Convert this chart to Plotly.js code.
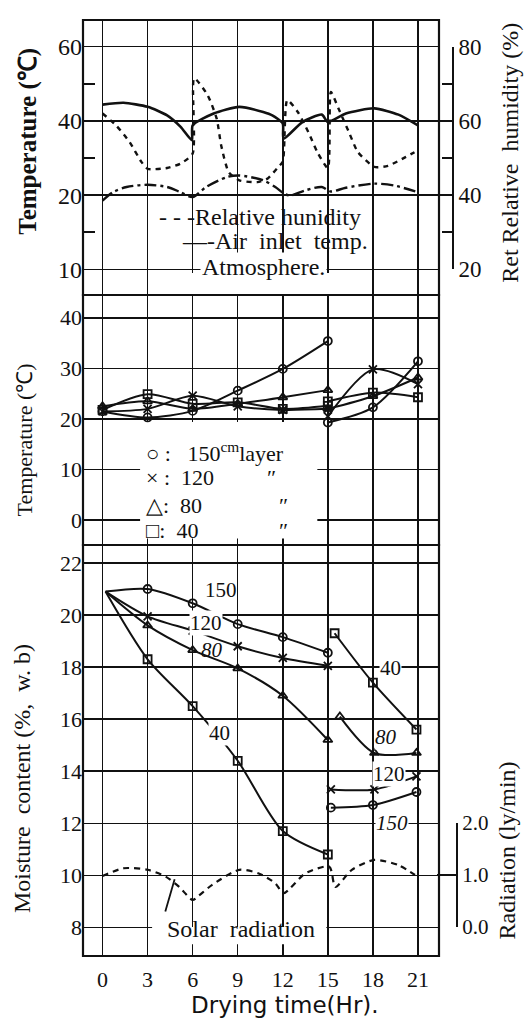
<!DOCTYPE html>
<html><head><meta charset="utf-8">
<script src="https://cdn.plot.ly/plotly-3.0.1.min.js"></script>
<style>html,body{margin:0;padding:0;background:#fff}</style>
</head><body><div id="chart" style="width:526px;height:1021px"></div>
<script>
// ---------- data ----------
const hourTicks = [0, 3, 6, 9, 12, 15, 18, 21];

// top panel: atmosphere (deg C), air inlet temp (deg C), relative humidity (%)
const atmHours = [0, 1.4, 3.0, 4.3, 5.2, 5.95, 6.0, 7.4, 9.1, 10.7, 11.3, 12.0, 12.05, 13.3, 14.6, 15.0, 16.2, 18.1, 19.7, 21.0];
const atmTemp  = [44.4, 44.9, 43.8, 41.5, 38.4, 34.8, 38.8, 42.0, 43.8, 42.4, 41.5, 39.3, 35.2, 39.7, 41.7, 39.7, 42.0, 43.4, 41.7, 38.8];
const inletHours = [0, 0.7, 1.6, 3.0, 4.3, 5.2, 6.0, 6.9, 8.3, 9.1, 10.7, 11.5, 12.1, 12.5, 13.5, 14.6, 15.2, 16.2, 18.1, 19.4, 21.0];
const inletTemp  = [18.5, 20.8, 22.2, 22.8, 22.2, 20.8, 19.5, 22.2, 24.9, 25.3, 24.0, 22.2, 20.4, 19.9, 21.3, 22.2, 21.0, 22.0, 23.1, 22.6, 20.8];
const rhHours  = [0, 0.9, 1.8, 2.6, 3.0, 4.3, 5.2, 6.0, 6.1, 7.0, 7.6, 7.9, 8.4, 9.1, 10.3, 11.0, 11.7, 12.0, 12.3, 13.0, 13.7, 14.3, 15.0, 15.2, 15.7, 16.4, 17.0, 18.1, 19.0, 20.2, 21.0];
const rhValues = [62, 58.8, 54.3, 48.9, 47.1, 47.3, 48.5, 51.2, 71.5, 66.9, 60.6, 53.4, 46.2, 44.0, 43.5, 44.5, 47.6, 49.0, 65.6, 62.4, 57.0, 51.6, 47.3, 67.8, 63.4, 57.0, 51.6, 47.6, 47.9, 50.3, 52.1];
const topTempTicks = [0, 20, 40, 60];
const topTempTickText = ['10', '20', '40', '60'];
const rhTicks = [20, 40, 60, 80];

// middle panel: grain temperature by layer (deg C)
const layerNames = ['150', '120', '80', '40'];
const layerHoursA = [0, 3, 6, 9, 12, 15];
const layerHoursB = [15, 18, 21];
const t150A = [21.5, 20.3, 21.6, 25.6, 29.9, 35.4];
const t120A = [21.5, 22.0, 24.6, 22.5, 21.8, 22.0];
const t80A  = [22.5, 23.5, 22.0, 23.0, 24.3, 25.7];
const t40A  = [21.8, 24.9, 23.0, 23.3, 22.0, 22.6];
const t150B = [19.3, 22.3, 31.4];
const t120B = [20.5, 29.8, 26.9];
const t80B  = [22.0, 24.5, 28.2];
const t40B  = [23.5, 25.2, 24.3];
const midTicks = [0, 10, 20, 30, 40];

// bottom panel: moisture content (%, w.b.)
const mHoursA = [0.2, 3, 6, 9, 12, 15];
const m150A = [20.9, 21.0, 20.45, 19.65, 19.15, 18.55];
const m120A = [20.9, 19.95, 19.4, 18.8, 18.35, 18.05];
const m80A  = [20.9, 19.6, 18.65, 17.95, 16.9, 15.2];
const m40A  = [20.9, 18.3, 16.5, 14.4, 11.7, 10.8];
const m150BHours = [15.2, 18.0, 20.9]; const m150B = [12.6, 12.7, 13.2];
const m120BHours = [15.2, 18.1, 20.9]; const m120B = [13.3, 13.3, 13.8];
const m80BHours  = [15.8, 18.1, 20.9]; const m80B  = [16.1, 14.7, 14.7];
const m40BHours  = [15.45, 18.0, 20.9]; const m40B = [19.3, 17.4, 15.6];
const moistTicks = [8, 10, 12, 14, 16, 18, 20, 22];

// solar radiation (ly/min)
const solarHours = [0, 1.4, 3.0, 4.2, 5.1, 6.0, 6.4, 7.3, 9.1, 10.4, 11.5, 12.05, 13.5, 15.1, 15.5, 16.6, 18.1, 19.7, 20.8];
const solarRad   = [0.98, 1.13, 1.1, 0.97, 0.77, 0.52, 0.6, 0.81, 1.1, 1.03, 0.84, 0.65, 1.03, 1.16, 0.77, 1.1, 1.29, 1.19, 1.0];
const radTicks = [0, 1, 2];

// ---------- styling ----------
const ink = '#111';
const serif = 'Liberation Serif, Times New Roman, serif';
const sans = 'DejaVu Sans, Liberation Sans, sans-serif';
const symbols = {'150': 'circle-open', '120': 'x-thin-open', '80': 'triangle-up-open', '40': 'square-open'};

function curve(x, y, yaxis, extra) {
  return Object.assign({x: x, y: y, xaxis: 'x', yaxis: yaxis, mode: 'lines',
    line: {color: ink, width: 2, shape: 'spline', smoothing: 0.8}, hoverinfo: 'skip'}, extra || {});
}
function layerTrace(x, y, yaxis, name, skipFirst) {
  const xs = skipFirst ? x.slice(1) : x, ys = skipFirst ? y.slice(1) : y;
  return [curve(x, y, yaxis),
    {x: xs, y: ys, xaxis: 'x', yaxis: yaxis, mode: 'markers', hoverinfo: 'skip',
     marker: {symbol: symbols[name], size: 8, color: ink, line: {color: ink, width: 1.8}}}];
}

const traces = [
  curve(atmHours, atmTemp, 'y', {line: {color: ink, width: 2.6, shape: 'spline', smoothing: 0.6}}),
  curve(inletHours, inletTemp, 'y', {line: {color: ink, width: 2.4, dash: '12px,4px,3px,4px', shape: 'spline', smoothing: 0.8}}),
  curve(rhHours, rhValues, 'y4', {line: {color: ink, width: 2.4, dash: '5px,5px', shape: 'spline', smoothing: 0.6}}),
  ...layerTrace(layerHoursA, t150A, 'y2', '150'),
  ...layerTrace(layerHoursA, t120A, 'y2', '120'),
  ...layerTrace(layerHoursA, t80A, 'y2', '80'),
  ...layerTrace(layerHoursA, t40A, 'y2', '40'),
  ...layerTrace(layerHoursB, t150B, 'y2', '150'),
  ...layerTrace(layerHoursB, t120B, 'y2', '120'),
  ...layerTrace(layerHoursB, t80B, 'y2', '80'),
  ...layerTrace(layerHoursB, t40B, 'y2', '40'),
  ...layerTrace(mHoursA, m150A, 'y3', '150', true),
  ...layerTrace(mHoursA, m120A, 'y3', '120', true),
  ...layerTrace(mHoursA, m80A, 'y3', '80', true),
  ...layerTrace(mHoursA, m40A, 'y3', '40', true),
  ...layerTrace(m150BHours, m150B, 'y3', '150'),
  ...layerTrace(m120BHours, m120B, 'y3', '120'),
  ...layerTrace(m80BHours, m80B, 'y3', '80'),
  ...layerTrace(m40BHours, m40B, 'y3', '40'),
  curve(solarHours, solarRad, 'y5', {line: {color: ink, width: 2.2, dash: '6px,5px', shape: 'spline', smoothing: 0.7}})
];

const grid = {showgrid: true, gridcolor: ink, gridwidth: 1.5, zeroline: false, showline: false, ticks: ''};

function rect(xref, yref, x0, x1, y0, y1, extra) {
  return Object.assign({type: 'rect', xref: xref, yref: yref, x0: x0, x1: x1, y0: y0, y1: y1}, extra);
}
const border = {line: {color: ink, width: 2.2}, layer: 'above'};
const whiteBox = {fillcolor: 'white', line: {width: 0}, layer: 'between'};

const shapes = [
  rect('x domain', 'y domain', 0, 1, 0, 1, border),
  rect('x domain', 'y2 domain', 0, 1, 0, 1, border),
  rect('x domain', 'y3 domain', 0, 1, 0, 1, border),
  // blank areas behind the in-plot texts
  rect('x', 'y', 3.3, 19.1, 3.0, 18.3, whiteBox),
  rect('x', 'y', 3.3, 17.6, -6.9, -1.0, whiteBox),
  rect('x', 'y2', 2.5, 14.3, -3.6, 19.4, whiteBox),
  rect('x', 'y3', 3.3, 14.9, 7.35, 8.75, whiteBox)
];

function ann(text, x, y, size, opts) {
  return Object.assign({text: text, x: x, y: y, xref: 'paper', yref: 'paper', showarrow: false,
    xanchor: 'center', yanchor: 'middle', font: {family: serif, size: size, color: ink}}, opts || {});
}
function dataLabel(text, x, y, opts) {
  return Object.assign({text: text, x: x, y: y, xref: 'x', yref: 'y3', showarrow: false,
    xanchor: 'center', yanchor: 'middle', bgcolor: 'white', borderpad: 0,
    font: {family: serif, size: 21, color: ink}}, opts || {});
}
const sp = '\u00a0';

const annotations = [
  // axis titles
  ann('<b>Temperature (℃)</b>', -0.142, 0.870, 25, {textangle: -90}),
  ann('Temperature (℃)', -0.152, 0.551, 22, {textangle: -90}),
  ann('Moisture' + sp + sp + 'content' + sp + '(%,' + sp + sp + 'w.' + sp + 'b)', -0.158, 0.190, 24, {textangle: -90}),
  ann('Ret' + sp + 'Relative' + sp + sp + 'humidity' + sp + '(%)', 1.103, 0.858, 24, {textangle: -90}),
  ann('Radiation (ly/min)', 1.096, 0.113, 24, {textangle: -90}),
  ann('Drying time(Hr).', 0.522, -0.0525, 23, {font: {family: sans, size: 23, color: ink}}),
  // top legend
  ann('- - -Relative' + sp + 'hunidity', 0.191, 0.7895, 24, {xanchor: 'left'}),
  ann('—-Air' + sp + sp + 'inlet' + sp + sp + 'temp.', 0.250, 0.7639, 24, {xanchor: 'left'}),
  ann('Atmosphere.', 0.302, 0.7361, 24, {xanchor: 'left', bgcolor: 'white', borderpad: 1}),
  // middle legend
  ann('○' + sp + ':' + sp + sp + sp + layerNames[0] + '<sup>cm</sup>layer', 0.157, 0.5385, 22, {xanchor: 'left'}),
  ann('×' + sp + ':' + sp + sp + layerNames[1], 0.157, 0.5107, 22, {xanchor: 'left'}),
  ann('△:' + sp + sp + layerNames[2], 0.157, 0.4818, 22, {xanchor: 'left'}),
  ann('□:' + sp + sp + layerNames[3], 0.157, 0.4551, 22, {xanchor: 'left'}),
  ann('″', 0.488, 0.5107, 22),
  ann('″', 0.517, 0.4818, 22),
  ann('″', 0.517, 0.4551, 22),
  // bottom panel curve labels
  dataLabel(layerNames[0], 7.9, 20.96, {bgcolor: 'rgba(0,0,0,0)'}),
  dataLabel(layerNames[1], 6.9, 19.7),
  dataLabel('<i>' + layerNames[2] + '</i>', 7.3, 18.65, {bgcolor: 'rgba(0,0,0,0)'}),
  dataLabel(layerNames[3], 7.8, 15.45),
  dataLabel(layerNames[3], 19.2, 17.95),
  dataLabel('<i>' + layerNames[2] + '</i>', 18.9, 15.3),
  dataLabel(layerNames[1], 19.1, 13.9),
  dataLabel('<i>' + layerNames[0] + '</i>', 19.25, 12.0),
  dataLabel('Solar' + sp + sp + 'radiation', 9.2, 7.95, {bgcolor: 'rgba(0,0,0,0)', font: {family: serif, size: 24, color: ink}}),
  {x: 4.8, y: 9.85, xref: 'x', yref: 'y3', ax: 4.15, ay: 8.55, axref: 'x', ayref: 'y3',
   text: '', showarrow: true, arrowhead: 0, arrowwidth: 1.8, arrowcolor: ink}
];

const layout = {
  width: 526, height: 1021,
  margin: {l: 83, r: 56, t: 20, b: 65},
  paper_bgcolor: 'white', plot_bgcolor: 'rgba(0,0,0,0)',
  showlegend: false,
  font: {family: serif, color: ink, size: 20},
  xaxis: Object.assign({}, grid, {domain: [0, 0.9199], range: [-1.3, 22.4], anchor: 'y3',
    tickmode: 'array', tickvals: hourTicks, ticktext: hourTicks.map(String),
    ticklabelstandoff: 8, tickfont: {family: serif, size: 22, color: ink}}),
  yaxis: Object.assign({}, grid, {domain: [0.7062, 1], range: [-6.9, 67.2], anchor: 'x',
    tickmode: 'array', tickvals: topTempTicks, ticktext: topTempTickText,
    tickfont: {family: serif, size: 24, color: ink},
    minor: {tickmode: 'array', tickvals: [10, 30, 50], ticks: 'inside', ticklen: 12, tickwidth: 1.6, tickcolor: ink, showgrid: false}}),
  yaxis2: Object.assign({}, grid, {domain: [0.4391, 0.7062], range: [-4.9, 44.5], anchor: 'x',
    tickmode: 'array', tickvals: midTicks, tickfont: {family: serif, size: 22, color: ink}}),
  yaxis3: Object.assign({}, grid, {domain: [0, 0.4391], range: [6.9, 22.69], anchor: 'x',
    tickmode: 'array', tickvals: moistTicks, tickfont: {family: serif, size: 22, color: ink}}),
  yaxis4: {domain: [0.7336, 0.9715], range: [20, 80], anchor: 'free', position: 0.956, side: 'right',
    showline: true, linewidth: 2, linecolor: ink, showgrid: false, zeroline: false,
    ticks: 'inside', ticklen: 16, tickwidth: 2, tickcolor: ink,
    tickmode: 'array', tickvals: rhTicks, tickfont: {family: serif, size: 23, color: ink},
    minor: {tickmode: 'array', tickvals: [30, 50, 70], ticks: 'inside', ticklen: 10, tickwidth: 1.6, tickcolor: ink, showgrid: false}},
  yaxis5: {domain: [0.0310, 0.1421], range: [0, 2], anchor: 'free', position: 0.9664, side: 'right',
    showline: true, linewidth: 2, linecolor: ink, showgrid: false, zeroline: false,
    ticks: 'inside', ticklen: 19, tickwidth: 2, tickcolor: ink,
    tickmode: 'array', tickvals: radTicks, ticktext: radTicks.map(v => v.toFixed(1)),
    tickfont: {family: serif, size: 21, color: ink}},
  shapes: shapes,
  annotations: annotations
};

Plotly.newPlot('chart', traces, layout, {staticPlot: true, displayModeBar: false});
</script></body></html>
